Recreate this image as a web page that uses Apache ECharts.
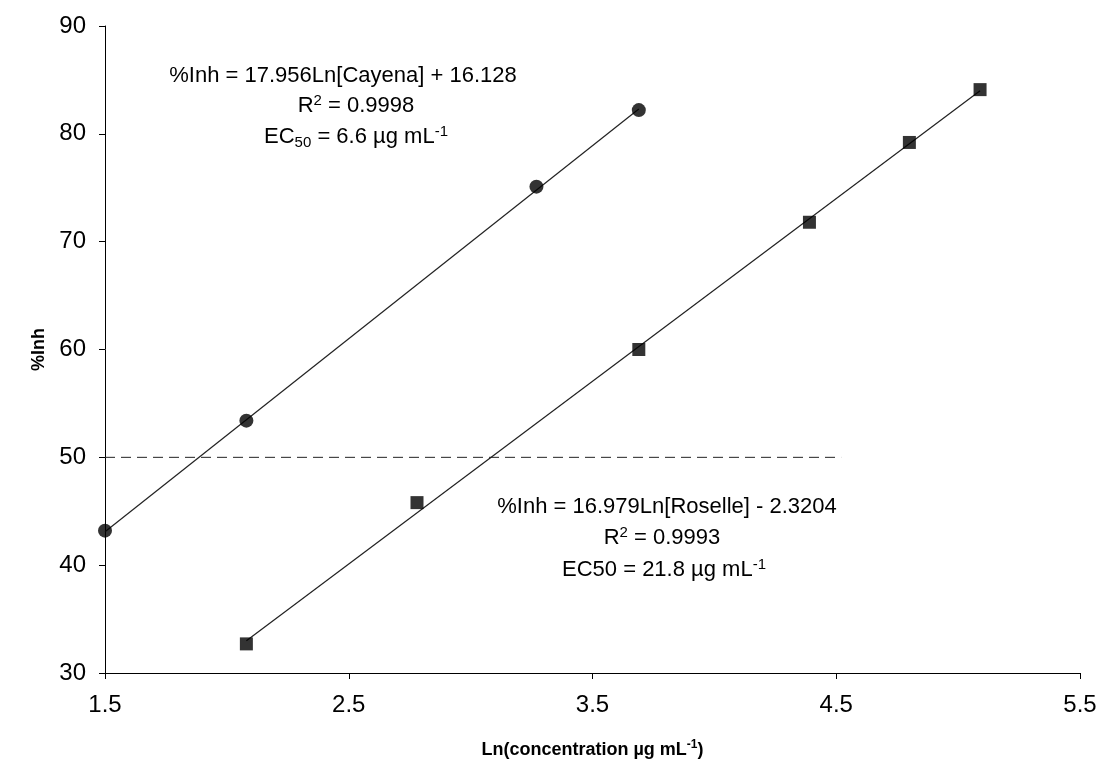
<!DOCTYPE html>
<html>
<head>
<meta charset="utf-8">
<script src="https://cdn.jsdelivr.net/npm/echarts@6/dist/echarts.min.js"></script>
<style>html,body{margin:0;padding:0;background:#fff}#c{width:1109px;height:782px}</style>
</head>
<body>
<div id="c"></div>
<script>
// Data
const cayenaX = [1.5, 2.08, 3.27, 3.69];
const cayenaY = [43.2, 53.4, 75.1, 82.2];
const roselleX = [2.08, 2.78, 3.69, 4.39, 4.80, 5.09];
const roselleY = [32.7, 45.8, 60.0, 71.8, 79.2, 84.1];
// Trend line end points
const cayenaTrendX = [1.5, 3.69];
const cayenaTrendY = [43.1, 82.3];
const roselleTrendX = [2.08, 5.09];
const roselleTrendY = [33.0, 84.0];
// EC50 reference line
const ec50LineX = [1.5, 4.52];
const ec50LineY = [50, 50];

const zip = (xs, ys) => xs.map((x, i) => [x, ys[i]]);
const FONT = 'Liberation Sans, Arial, sans-serif';

const chart = echarts.init(document.getElementById('c'));
function txt(x, y, text) {
  return {
    type: 'text', x: x, y: y, silent: true,
    style: {
      text: text, fill: '#000', font: '22px ' + FONT,
      textAlign: 'center', textVerticalAlign: 'middle',
      lineHeight: 26,
      rich: {
        sup: {fontSize: 15, fontFamily: FONT, fill: '#000', verticalAlign: 'top', lineHeight: 26},
        sub: {fontSize: 15, fontFamily: FONT, fill: '#000', verticalAlign: 'bottom', lineHeight: 18}
      }
    }
  };
}

chart.setOption({
  animation: false,
  backgroundColor: '#fff',
  grid: {left: 105, right: 29, top: 26, bottom: 109, containLabel: false},
  xAxis: {
    type: 'value', min: 1.5, max: 5.5, interval: 1,
    name: 'Ln(concentration µg mL{sup|-1})',
    nameLocation: 'middle', nameGap: 66,
    nameTextStyle: {fontSize: 18, fontWeight: 'bold', color: '#000', fontFamily: FONT,
      rich: {sup: {fontSize: 12, fontWeight: 'bold', color: '#000', verticalAlign: 'top', lineHeight: 22, fontFamily: FONT}}},
    axisLine: {show: true, lineStyle: {color: '#000', width: 1}},
    axisTick: {show: true, inside: false, length: 6, lineStyle: {color: '#000'}},
    axisLabel: {fontSize: 24, color: '#000', fontFamily: FONT, margin: 20,
      formatter: v => v.toFixed(1)},
    splitLine: {show: false}
  },
  yAxis: {
    type: 'value', min: 30, max: 90, interval: 10,
    name: '%Inh', nameLocation: 'middle', nameGap: 55, nameRotate: 90,
    nameTextStyle: {fontSize: 18, fontWeight: 'bold', color: '#000', fontFamily: FONT},
    axisLine: {show: true, lineStyle: {color: '#000', width: 1}},
    axisTick: {show: true, inside: false, length: 6, lineStyle: {color: '#000'}},
    axisLabel: {fontSize: 24, color: '#000', fontFamily: FONT, margin: 19},
    splitLine: {show: false}
  },
  series: [
    {type: 'line', data: zip(ec50LineX, ec50LineY), symbol: 'none',
      lineStyle: {color: '#222', width: 1, type: [10, 6]}, z: 1},
    {type: 'line', data: zip(cayenaTrendX, cayenaTrendY), symbol: 'none',
      lineStyle: {color: '#222', width: 1.2}, z: 2},
    {type: 'line', data: zip(roselleTrendX, roselleTrendY), symbol: 'none',
      lineStyle: {color: '#222', width: 1.2}, z: 2},
    {name: 'Cayena', type: 'scatter', data: zip(cayenaX, cayenaY), symbol: 'circle',
      symbolSize: 14, itemStyle: {color: '#000'}, z: 3},
    {name: 'Roselle', type: 'scatter', data: zip(roselleX, roselleY), symbol: 'rect',
      symbolSize: 13, itemStyle: {color: '#000'}, z: 3}
  ],
  graphic: [
    txt(343, 76, '%Inh = 17.956Ln[Cayena] + 16.128'),
    txt(356, 106, 'R{sup|2} = 0.9998'),
    txt(356, 137, 'EC{sub|50} = 6.6 µg mL{sup|-1}'),
    txt(667, 507, '%Inh = 16.979Ln[Roselle] - 2.3204'),
    txt(662, 538, 'R{sup|2} = 0.9993'),
    txt(664, 570, 'EC50 = 21.8 µg mL{sup|-1}')
  ]
});
</script>
</body>
</html>
